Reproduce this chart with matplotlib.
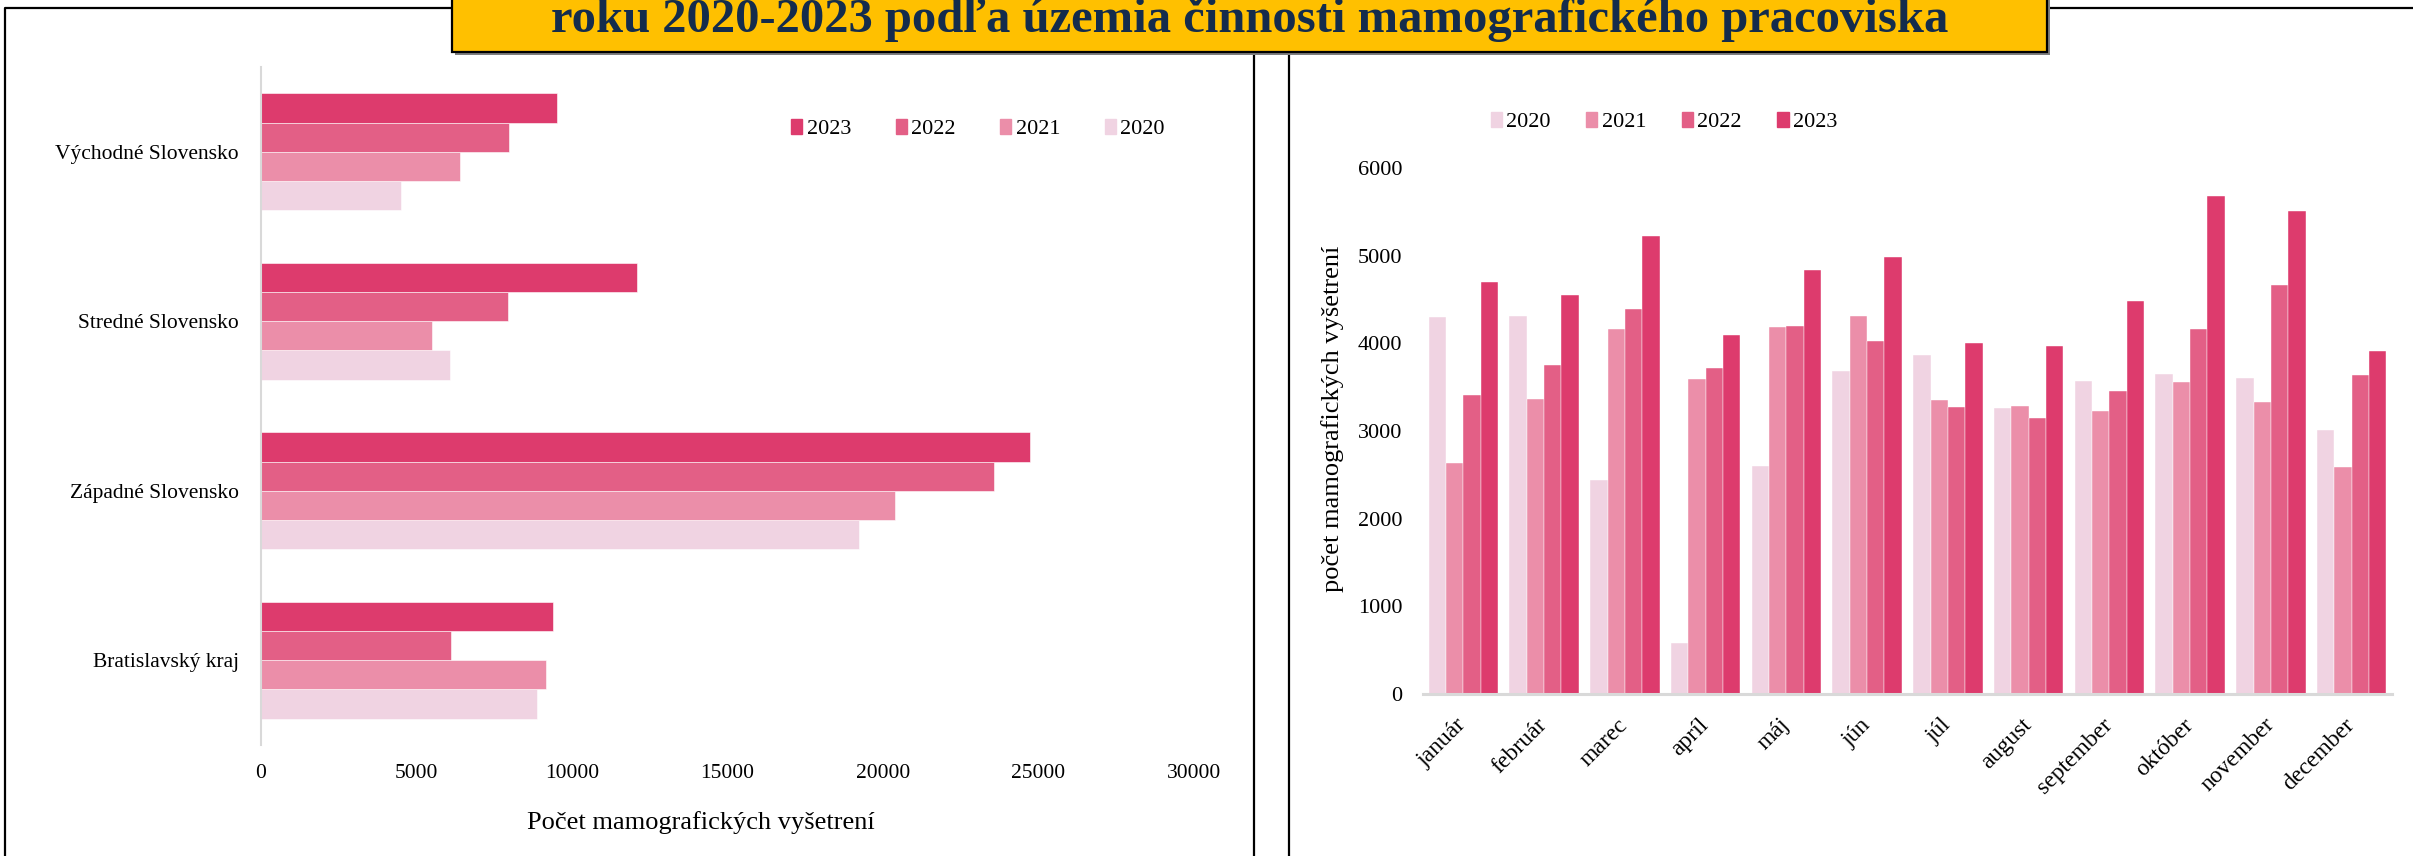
import matplotlib
matplotlib.use("Agg")
import matplotlib.pyplot as plt
import numpy as np
from matplotlib.patches import Rectangle, Patch
from matplotlib.lines import Line2D

plt.rcParams['font.family'] = ['Liberation Serif', 'DejaVu Serif']

# data
regions = ['Bratislavský kraj', 'Západné Slovensko', 'Stredné Slovensko', 'Východné Slovensko']
years = ['2020', '2021', '2022', '2023']
region_vals = {
    '2020': [8890, 19220, 6080, 4500],
    '2021': [9150, 20370, 5510, 6390],
    '2022': [6100, 23580, 7940, 7960],
    '2023': [9380, 24720, 12090, 9510],
}

months = ['január', 'február', 'marec', 'apríl', 'máj', 'jún', 'júl',
          'august', 'september', 'október', 'november', 'december']
month_vals = {
    '2020': [4300, 4315, 2437, 578, 2597, 3684, 3863, 3266, 3570, 3654, 3600, 3011],
    '2021': [2631, 3365, 4167, 3589, 4190, 4312, 3353, 3285, 3232, 3559, 3334, 2589],
    '2022': [3410, 3753, 4388, 3718, 4194, 4026, 3273, 3144, 3460, 4167, 4665, 3642],
    '2023': [4699, 4551, 5224, 4091, 4832, 4988, 4004, 3969, 4486, 5684, 5509, 3912],
}
colors = {'2020': '#F0D3E2', '2021': '#EB8EA9', '2022': '#E35F86', '2023': '#DD3B6D'}
title_line = 'roku 2020-2023 podľa územia činnosti mamografického pracoviska'

W, H = 2413, 856
fig = plt.figure(figsize=(W / 100, H / 100), dpi=100)

def fx(px):
    return px / W

def fy(py):
    return 1 - py / H

FS = 15.5

# panel frames
fig.add_artist(Line2D([fx(5), fx(5), fx(1254), fx(1254)], [0, fy(8), fy(8), 0],
                      color='black', lw=1.6, transform=fig.transFigure))
fig.add_artist(Line2D([fx(1289), fx(1289), 1.01], [0, fy(8), fy(8)],
                      color='black', lw=1.6, transform=fig.transFigure))

# left: horizontal grouped bars
ax1 = fig.add_axes([fx(261), fy(745), fx(1194 - 261), (745 - 67) / H])
y = np.arange(len(regions))
h = 0.172
for i, yr in enumerate(years):
    ax1.barh(y + (i - 1.5) * h, region_vals[yr], height=h, color=colors[yr],
             edgecolor='white', linewidth=0.4)
ax1.set_xlim(0, 30000)
ax1.set_ylim(-0.5, 3.5)
ax1.set_xticks(np.arange(0, 30001, 5000))
ax1.set_yticks(y)
ax1.set_yticklabels(regions)
for s in ['top', 'right', 'bottom']:
    ax1.spines[s].set_visible(False)
ax1.spines['left'].set_color('#D9D9D9')
ax1.spines['left'].set_linewidth(1.5)
ax1.tick_params(axis='x', length=0, pad=14, labelsize=FS)
ax1.tick_params(axis='y', length=0, pad=16, labelsize=FS)
fig.text(fx(701), fy(823), 'Počet mamografických vyšetrení', ha='center', va='center', fontsize=19)

h1 = [Patch(color=colors[yr], label=yr) for yr in years[::-1]]
fig.legend(handles=h1, loc='center', bbox_to_anchor=(fx(978), fy(129)), ncol=4,
           frameon=False, fontsize=16, handlelength=0.5, handleheight=0.7,
           handletextpad=0.2, columnspacing=2.0)

# right: monthly grouped bars
ax2 = fig.add_axes([fx(1423), fy(694), fx(2392 - 1423), (694 - 168) / H])
x = np.arange(len(months))
w = 0.215
for i, yr in enumerate(years):
    ax2.bar(x + (i - 1.5) * w, month_vals[yr], width=w, color=colors[yr],
            edgecolor='white', linewidth=0.3)
ax2.set_xlim(-0.5, 11.5)
ax2.set_ylim(0, 6000)
ax2.set_yticks(np.arange(0, 6001, 1000))
ax2.set_xticks(x)
ax2.set_xticklabels(months, rotation=45, ha='right', va='center', rotation_mode='anchor')
for s in ['top', 'right', 'left']:
    ax2.spines[s].set_visible(False)
ax2.spines['bottom'].set_color('#D9D9D9')
ax2.spines['bottom'].set_linewidth(2.2)
ax2.tick_params(axis='y', length=0, pad=15, labelsize=16)
ax2.tick_params(axis='x', length=0, pad=20, labelsize=17)
fig.text(fx(1333), fy(419), 'počet mamografických vyšetrení', ha='center', va='center',
         rotation=90, fontsize=19)

h2 = [Patch(color=colors[yr], label=yr) for yr in years]
fig.legend(handles=h2, loc='center', bbox_to_anchor=(fx(1664), fy(122)), ncol=4,
           frameon=False, fontsize=16, handlelength=0.5, handleheight=0.7,
           handletextpad=0.2, columnspacing=1.6)

# title box, top part cut by the image edge
fig.add_artist(Rectangle((fx(455), fy(55)), fx(2050 - 455), 0.2, transform=fig.transFigure,
                         facecolor='#7F7F7F', edgecolor='none', zorder=4))
fig.add_artist(Rectangle((fx(452), fy(52)), fx(2047 - 452), 0.2, transform=fig.transFigure,
                         facecolor='#FFC000', edgecolor='black', lw=1.6, zorder=5))
fig.text(fx(1250), fy(32), title_line, ha='center', va='baseline', fontsize=35,
         fontweight='bold', color='#142C4C', zorder=6)

fig.savefig('out.png', dpi=100)
